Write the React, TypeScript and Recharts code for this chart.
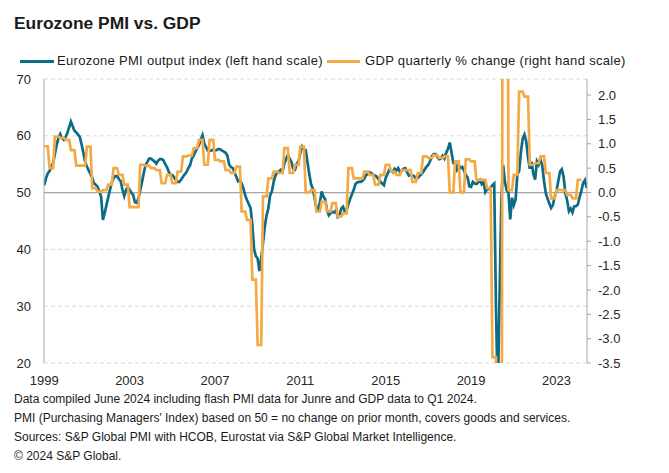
import React from "react";
import { ComposedChart, Line, XAxis, YAxis, CartesianGrid, ReferenceLine } from "recharts";

// Eurozone composite PMI output index, monthly, Jan 1999 - Jun 2024
const pmi1999 = [51.3, 52.5, 53.4, 53.8, 54.4, 55.2, 56.8, 58.4, 59.6, 60.3, 59.6, 59.3];
const pmi2000 = [59.8, 60.5, 61.5, 62.5, 61.7, 60.9, 60.6, 60.2, 59.8, 58.5, 57.0, 55.4];
const pmi2001 = [54.6, 53.9, 53.3, 52.6, 51.6, 51.4, 51.0, 50.2, 49.3, 45.2, 46.4, 47.8];
const pmi2002 = [49.2, 50.5, 51.8, 52.5, 52.9, 52.9, 52.4, 52.0, 50.5, 49.4, 50.5, 51.0];
const pmi2003 = [50.5, 50.0, 49.6, 48.3, 48.2, 49.0, 50.4, 51.9, 53.5, 54.9, 55.4, 56.0];
const pmi2004 = [56.0, 55.7, 55.5, 55.1, 55.6, 55.9, 55.9, 55.7, 55.0, 54.5, 53.7, 53.1];
const pmi2005 = [53.1, 52.7, 52.2, 51.9, 51.9, 52.3, 52.8, 53.2, 53.6, 54.3, 54.8, 56.0];
const pmi2006 = [56.5, 57.2, 57.8, 58.4, 59.3, 60.1, 58.6, 58.0, 57.4, 57.3, 57.4, 57.6];
const pmi2007 = [57.4, 57.5, 57.7, 57.6, 57.4, 57.2, 57.0, 56.5, 54.9, 54.5, 54.3, 53.6];
const pmi2008 = [52.8, 52.0, 52.2, 51.6, 50.7, 49.5, 48.7, 48.0, 47.3, 44.3, 40.0, 38.8];
const pmi2009 = [38.4, 36.2, 38.4, 41.1, 44.0, 46.0, 47.2, 49.5, 50.2, 51.9, 53.0, 53.6];
const pmi2010 = [53.7, 54.0, 53.7, 55.1, 55.9, 56.6, 56.0, 55.4, 54.1, 54.0, 55.1, 55.5];
const pmi2011 = [57.0, 58.1, 57.6, 57.5, 55.4, 53.3, 51.5, 50.7, 49.1, 47.3, 47.0, 48.3];
const pmi2012 = [50.2, 49.3, 48.8, 46.9, 46.0, 46.4, 46.6, 46.5, 46.9, 45.7, 46.0, 47.2];
const pmi2013 = [47.5, 46.6, 46.9, 48.0, 48.9, 49.7, 50.5, 51.5, 51.8, 51.9, 51.9, 52.1];
const pmi2014 = [52.5, 53.1, 53.3, 53.6, 53.4, 53.1, 53.0, 52.8, 52.3, 51.9, 51.6, 51.3];
const pmi2015 = [52.6, 53.3, 54.0, 53.9, 53.6, 54.2, 53.9, 54.3, 53.6, 53.9, 54.2, 54.3];
const pmi2016 = [53.6, 53.0, 53.1, 53.0, 52.9, 52.4, 52.6, 52.9, 53.2, 53.6, 54.1, 54.6];
const pmi2017 = [54.9, 55.6, 56.4, 56.8, 56.8, 56.3, 55.9, 56.0, 56.5, 56.0, 57.0, 57.7];
const pmi2018 = [58.8, 57.1, 55.2, 55.1, 54.1, 54.9, 54.3, 54.5, 53.9, 53.1, 52.7, 51.1];
const pmi2019 = [51.0, 51.9, 51.6, 51.5, 51.8, 52.2, 51.5, 51.9, 50.1, 50.6, 50.6, 50.9];
const pmi2020 = [51.3, 51.6, 29.7, 13.6, 31.9, 48.5, 54.9, 51.9, 50.4, 50.0, 45.3, 49.1];
const pmi2021 = [47.8, 48.8, 53.2, 53.8, 57.1, 59.5, 60.2, 59.0, 56.2, 54.2, 55.4, 53.3];
const pmi2022 = [52.3, 55.5, 54.9, 55.8, 54.8, 52.0, 49.9, 48.9, 48.1, 47.3, 47.8, 49.3];
const pmi2023 = [50.3, 52.0, 53.7, 54.1, 52.8, 49.9, 48.6, 46.7, 47.2, 46.5, 47.6, 47.6];
const pmi2024 = [47.9, 49.2, 50.3, 51.7, 52.2, 50.8];

// GDP quarterly % change, Q1 1999 - Q1 2024
const gdpQ = [
  0.95, 0.5, 1.15, 1.12,
  1.08, 0.87, 0.55, 0.55,
  0.94, 0.09, 0.02, 0.05,
  0.16, 0.5, 0.36, 0.16,
  -0.3, -0.3, 0.57, 0.55,
  0.5, 0.46, 0.19, 0.36,
  0.19, 0.43, 0.74, 0.76,
  0.91, 1.08, 0.57, 1.08,
  0.67, 0.64, 0.46, 0.4,
  0.53, -0.39, -0.56, -1.79,
  -3.13, -0.08, 0.29, 0.43,
  0.4, 0.91, 0.4, 0.57,
  0.94, 0.0, 0.05, -0.39,
  -0.19, -0.39, -0.22, -0.49,
  -0.43, 0.5, 0.29, 0.29,
  0.43, 0.36, 0.16, 0.36,
  0.57, 0.43, 0.36, 0.46,
  0.46, 0.22, 0.4, 0.74,
  0.71, 0.77, 0.71, 0.74,
  0.0, 0.64, 0.0, 0.68,
  0.64, 0.26, 0.26, 0.09,
  -3.38, -11.5, 12.6, 0.05,
  0.36, 2.07, 1.97, 0.57,
  0.6, 0.74, 0.4, -0.12,
  0.05, 0.05, -0.05, -0.12,
  0.26,
];

const yearTicks = [1999, 2003, 2007, 2011, 2015, 2019, 2023];
const leftTicks = [20, 30, 40, 50, 60, 70];
const rightTicks = [-3.5, -3, -2.5, -2, -1.5, -1, -0.5, 0, 0.5, 1, 1.5, 2];

const notes = [
  "Data compiled June 2024 including flash PMI data for Junre and GDP data to Q1 2024.",
  "PMI (Purchasing Managers' Index) based on 50 = no change on prior month, covers goods and services.",
  "Sources: S&P Global PMI with HCOB, Eurostat via S&P Global Market Intelligence.",
  "© 2024 S&P Global.",
];

const TEAL = "#0c6b86";
const ORANGE = "#f5a945";
const FONT = "'Liberation Sans', Arial, sans-serif";

const pmi = [
  ...pmi1999, ...pmi2000, ...pmi2001, ...pmi2002, ...pmi2003, ...pmi2004, ...pmi2005,
  ...pmi2006, ...pmi2007, ...pmi2008, ...pmi2009, ...pmi2010, ...pmi2011, ...pmi2012,
  ...pmi2013, ...pmi2014, ...pmi2015, ...pmi2016, ...pmi2017, ...pmi2018, ...pmi2019,
  ...pmi2020, ...pmi2021, ...pmi2022, ...pmi2023, ...pmi2024,
];

// monthly table, each quarter's GDP value held for its three months
const rows = pmi.map((v, m) => ({
  t: 1999 + m / 12,
  pmi: v,
  gdp: gdpQ[Math.floor(m / 3)],
}));

const tick = { fontSize: 13, fill: "#262626", fontFamily: FONT };

export default function App() {
  return (
    <div style={{ position: "absolute", left: 0, top: 0, width: 669, height: 473, background: "#fff", fontFamily: FONT, color: "#1a1a1a" }}>
      <div style={{ position: "absolute", left: 14, top: 13, fontSize: 17.4, fontWeight: "bold", whiteSpace: "nowrap" }}>
        Eurozone PMI vs. GDP
      </div>

      <div style={{ position: "absolute", left: 20, top: 60, width: 34, height: 3, background: TEAL }} />
      <div style={{ position: "absolute", left: 57, top: 53, fontSize: 13, letterSpacing: 0.3, whiteSpace: "nowrap" }}>
        Eurozone PMI output index (left hand scale)
      </div>
      <div style={{ position: "absolute", left: 327, top: 60, width: 33, height: 3, background: ORANGE }} />
      <div style={{ position: "absolute", left: 365, top: 53, fontSize: 13, letterSpacing: 0.32, whiteSpace: "nowrap" }}>
        GDP quarterly % change (right hand scale)
      </div>

      <div style={{ position: "absolute", left: 0, top: 0 }}>
        <ComposedChart width={669} height={400} data={rows} margin={{ top: 79, right: 42, bottom: 7, left: 0 }}>
          <CartesianGrid yAxisId="left" vertical={false} stroke="#d9d9d9" strokeDasharray="4 3" />
          <XAxis
            dataKey="t"
            type="number"
            domain={[1998.99, 2024.43]}
            ticks={yearTicks}
            axisLine={false}
            tickLine={false}
            tickSize={6}
            tickMargin={7}
            height={30}
            tick={tick}
            allowDataOverflow
          />
          <YAxis
            yAxisId="left"
            domain={[20, 70]}
            ticks={leftTicks}
            width={44}
            axisLine={{ stroke: "#a6a6a6" }}
            tickLine={false}
            tickSize={8}
            tickMargin={5}
            tick={tick}
            allowDataOverflow
          />
          <YAxis
            yAxisId="right"
            orientation="right"
            domain={[-3.5, 2.33]}
            ticks={rightTicks}
            width={40}
            axisLine={{ stroke: "#a6a6a6" }}
            tickLine={{ stroke: "#a6a6a6" }}
            tickSize={4}
            tickMargin={7}
            tick={tick}
            tickFormatter={(v: number) => v.toFixed(1)}
            allowDataOverflow
          />
          <ReferenceLine yAxisId="left" y={50} stroke="#a6a6a6" strokeWidth={1.3} />
          <Line
            yAxisId="left"
            dataKey="pmi"
            type="linear"
            stroke={TEAL}
            strokeWidth={2.7}
            dot={false}
            isAnimationActive={false}
          />
          <Line
            yAxisId="right"
            dataKey="gdp"
            type="linear"
            stroke={ORANGE}
            strokeWidth={2.7}
            dot={false}
            isAnimationActive={false}
          />
        </ComposedChart>
      </div>

      {notes.map((n, i) => (
        <div key={i} style={{ position: "absolute", left: 14, top: 392 + i * 19, fontSize: 12, whiteSpace: "nowrap" }}>
          {n}
        </div>
      ))}
    </div>
  );
}
